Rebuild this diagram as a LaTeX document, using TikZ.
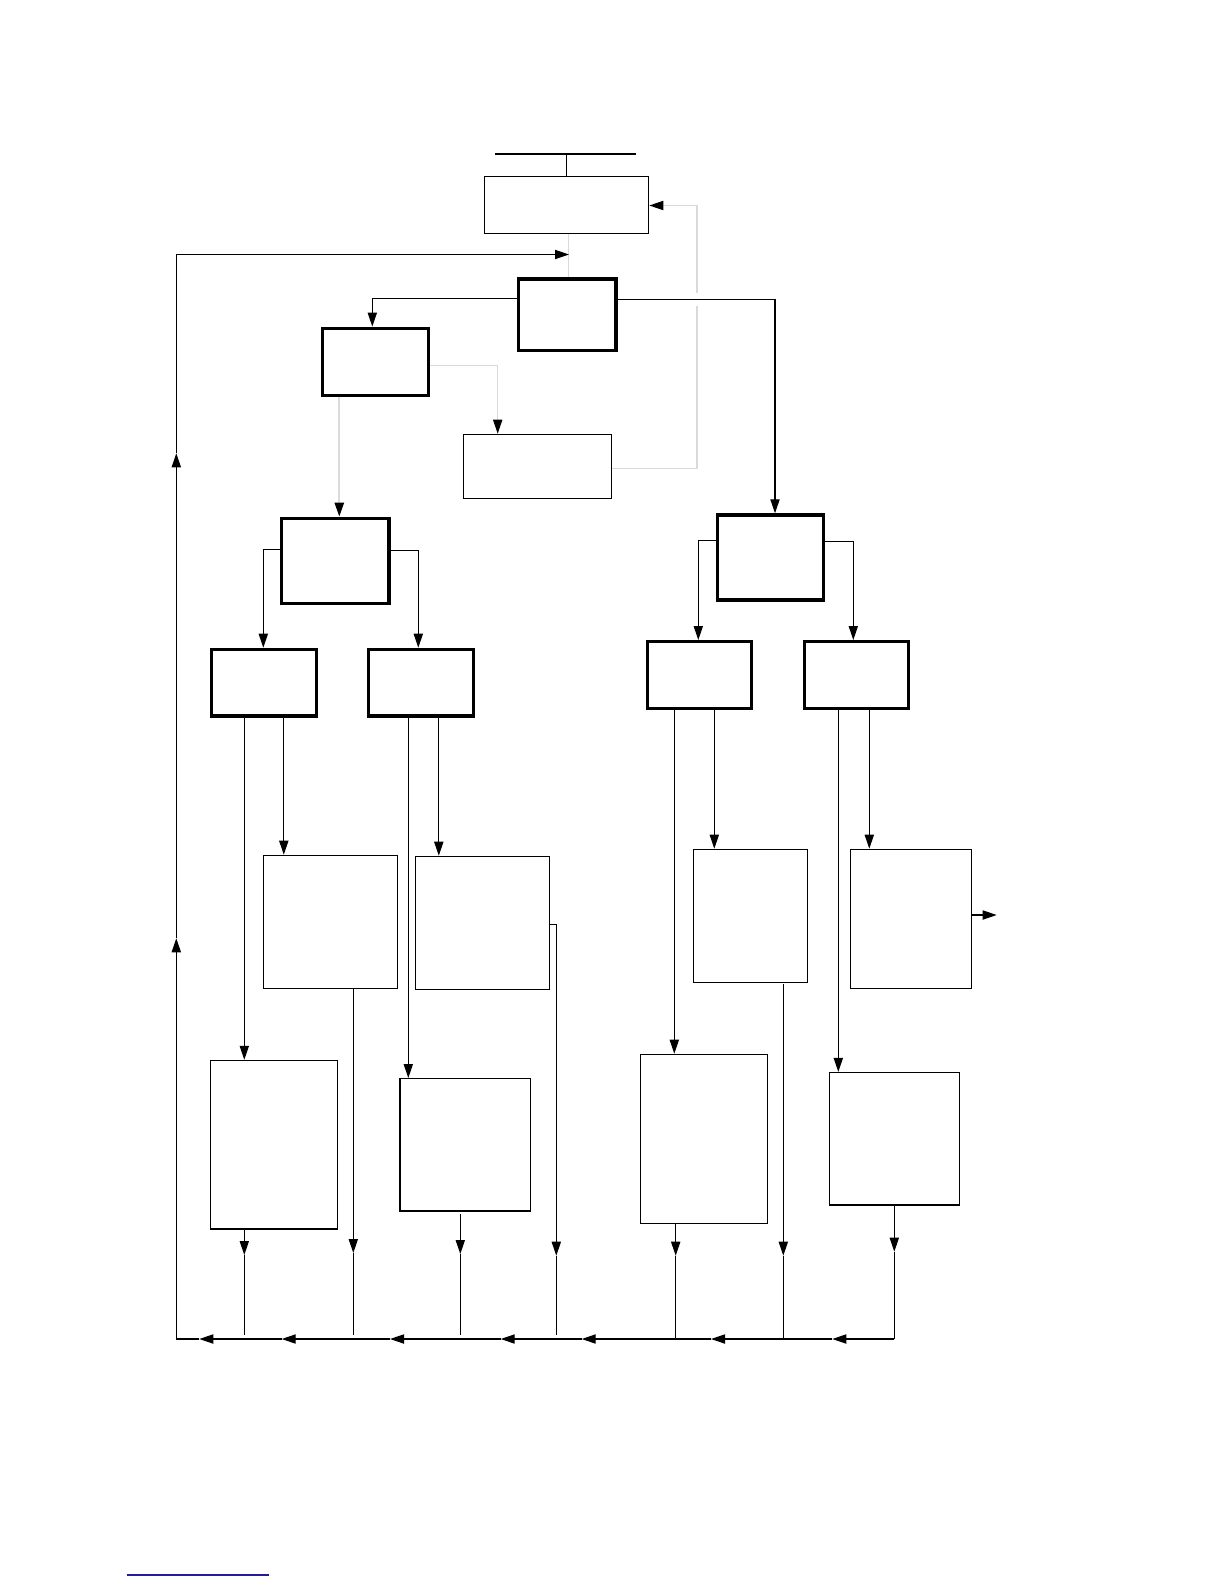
\documentclass[tikz,border=0pt]{standalone}
\usetikzlibrary{arrows.meta}
\definecolor{footblue}{RGB}{30,30,150}
\definecolor{lightwire}{RGB}{218,218,218}
\begin{document}
\begin{tikzpicture}[x=0.5pt,y=-0.5pt,
  thinbox/.style={draw, line width=0.6pt, inner sep=0pt},
  thickbox/.style={draw, line width=1.7pt, inner sep=0pt},
  wire/.style={line width=0.6pt},
  arr/.style={wire, -{Triangle[length=7pt,width=4.6pt]}},
  gwire/.style={draw=lightwire, line width=0.6pt},
  garr/.style={gwire, -{Triangle[length=7pt,width=4.6pt,color=black]}}]
\useasboundingbox (0,0) rectangle (1224,1584);

% boxes
\node[thinbox, minimum width=82.2pt, minimum height=28.5pt] (T) at (566.5,204.8) {};
\node[thickbox, minimum width=48.8pt, minimum height=35.8pt] (B1) at (567.2,314.8) {};
\node[thickbox, minimum width=53pt, minimum height=33.7pt] (B2) at (375.3,362) {};
\node[thinbox, minimum width=74.2pt, minimum height=32pt] (B3) at (537.5,466.3) {};
\node[thickbox, minimum width=53.6pt, minimum height=42.5pt] (B4) at (335.3,560.8) {};
\node[thickbox, minimum width=53.2pt, minimum height=42.5pt] (B7) at (770.5,557.5) {};
\node[thickbox, minimum width=52.5pt, minimum height=33.3pt] (B5) at (264.2,682.7) {};
\node[thickbox, minimum width=52.5pt, minimum height=33.3pt] (B6) at (420.8,682.7) {};
\node[thickbox, minimum width=52.2pt, minimum height=33.3pt] (B8) at (699.5,675) {};
\node[thickbox, minimum width=52.2pt, minimum height=33.3pt] (B9) at (856.5,675) {};
\node[thinbox, minimum width=66.8pt, minimum height=66.5pt] (A) at (330.5,921.8) {};
\node[thinbox, minimum width=67pt, minimum height=66.5pt] (Bb) at (482.3,922.8) {};
\node[thinbox, minimum width=57pt, minimum height=66.5pt] (C) at (750.3,915.8) {};
\node[thinbox, minimum width=60.5pt, minimum height=69.4pt] (D) at (910.8,918.7) {};
\node[thinbox, minimum width=63.6pt, minimum height=84.3pt] (E) at (273.7,1144.7) {};
\node[thinbox, minimum width=65.1pt, minimum height=66.2pt] (F) at (465.1,1144.8) {};
\node[thinbox, minimum width=63.6pt, minimum height=84.4pt] (G) at (703.9,1138.7) {};
\node[thinbox, minimum width=65.2pt, minimum height=66.2pt] (H) at (894.3,1138.7) {};

% top bar
\coordinate (tl) at (495,154);
\coordinate (tr) at (636,154);
\draw[wire] (tl) -- (tr);
\draw[wire] (T.north) -- (T.north |- tl);

% gray connectors
\draw[gwire] (568.7,0 |- T.south) -- (568.7,0 |- B1.north);
\draw[garr] (B2.east |- 0,365.3) -| (497.7,0 |- B3.north);
\draw[garr] (B3.east |- 0,468.3) -- (697,468.3) -- (697,205.5) -- (T.east |- 0,205.5);
\draw[garr, line width=1.1pt] (339.3,0 |- B2.south) -- (339.3,0 |- B4.north);
\fill[white] (692,293) rectangle (702,306);

% black connectors from B1
\draw[arr] (B1.west |- 0,298.7) -| (372.3,0 |- B2.north);
\draw[arr] (B1.east |- 0,299.3) -| (775,0 |- B7.north);

% B4 and B7 branches
\draw[arr] (B4.west |- 0,549.3) -| (263.3,0 |- B5.north);
\draw[arr] (B4.east |- 0,550.3) -| (418.3,0 |- B6.north);
\draw[arr] (B7.west |- 0,540.3) -| (698.3,0 |- B8.north);
\draw[arr] (B7.east |- 0,541.3) -| (853.3,0 |- B9.north);

% from small boxes to tall boxes
\draw[arr] (244.3,0 |- B5.south) -- (244.3,0 |- E.north);
\draw[arr] (283.8,0 |- B5.south) -- (283.8,0 |- A.north);
\draw[arr] (408.3,0 |- B6.south) -- (408.3,0 |- F.north);
\draw[arr] (438.8,0 |- B6.south) -- (438.8,0 |- Bb.north);
\draw[arr] (674.3,0 |- B8.south) -- (674.3,0 |- G.north);
\draw[arr] (714.3,0 |- B8.south) -- (714.3,0 |- C.north);
\draw[arr] (838.3,0 |- B9.south) -- (838.3,0 |- H.north);
\draw[arr] (869.3,0 |- B9.south) -- (869.3,0 |- D.north);

% output of D
\coordinate (dout) at (996.7,915);
\draw[arr] (D.east |- dout) -- (dout);

% down to the bottom bus
\draw[arr] (244.3,0 |- E.south) -- (244.3,1255);
\draw[wire] (244.3,1255) -- (244.3,1335);
\draw[arr] (353.3,0 |- A.south) -- (353.3,1253);
\draw[wire] (353.3,1253) -- (353.3,1335);
\draw[arr] (460.3,1214) -- (460.3,1254);
\draw[wire] (460.3,1254) -- (460.3,1335);
\draw[arr] (Bb.east |- 0,924.3) -- (556.3,924.3) -- (556.3,1255.7);
\draw[wire] (556.3,1255.7) -- (556.3,1335);
\draw[arr] (675.7,0 |- G.south) -- (675.7,1255.7);
\draw[wire] (675.7,1255.7) -- (675.7,1338);
\draw[arr] (783.3,984) -- (783.3,1255.7);
\draw[wire] (783.3,1255.7) -- (783.3,1338);
\draw[arr] (894.3,0 |- H.south) -- (894.3,1251.7);

% bottom bus and return loop
\coordinate (BR) at (894.3,1339);
\coordinate (BL) at (176.3,1339);
\coordinate (TL) at (176.3,254.5);
\draw[wire] (894.3,1251.7) -- (BR);
\draw[arr] (BR) -- (832.3,1339);
\draw[arr] (832.3,1339) -- (711,1339);
\draw[arr] (711,1339) -- (581.7,1339);
\draw[arr] (581.7,1339) -- (500.7,1339);
\draw[arr] (500.7,1339) -- (390,1339);
\draw[arr] (390,1339) -- (281.7,1339);
\draw[arr] (281.7,1339) -- (199.3,1339);
\draw[wire] (199.3,1339) -- (BL);
\draw[arr] (BL) -- (176.3,938.3);
\draw[arr] (176.3,938.3) -- (176.3,453.3);
\draw[wire] (176.3,453.3) -- (TL);
\draw[arr] (TL) -- (569,0 |- TL);

% footnote rule
\draw[footblue, line width=0.8pt] (126.7,1575) -- (269,1575);
\end{tikzpicture}
\end{document}
